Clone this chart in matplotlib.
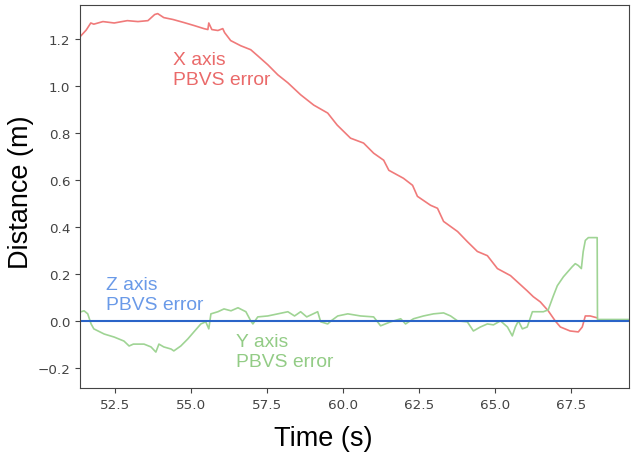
import matplotlib
matplotlib.use("Agg")
import matplotlib.pyplot as plt

# time (s) / distance (m)
x_time = [51.38, 51.55, 51.7, 51.8, 52.1, 52.47, 52.9, 53.25, 53.58, 53.8, 53.9,
          54.1, 54.4, 54.76, 55.1, 55.42, 55.55, 55.58, 55.68, 55.88, 56.04, 56.1,
          56.3, 56.63, 56.96, 57.19, 57.52, 57.85, 58.18, 58.6, 59.03, 59.49, 59.8,
          60.24, 60.67, 61.0, 61.33, 61.5, 61.98, 62.28, 62.44, 62.87, 63.1, 63.3,
          63.76, 64.08, 64.41, 64.74, 65.07, 65.5, 65.72, 66.05, 66.25, 66.48,
          66.74, 66.97, 67.14, 67.46, 67.73, 67.86, 67.96, 68.12, 68.35]
x_err = [1.216, 1.24, 1.27, 1.265, 1.276, 1.27, 1.28, 1.276, 1.28, 1.306, 1.31,
         1.293, 1.285, 1.272, 1.259, 1.246, 1.242, 1.27, 1.242, 1.238, 1.246, 1.229,
         1.195, 1.173, 1.156, 1.13, 1.092, 1.049, 1.015, 0.964, 0.92, 0.886, 0.835,
         0.779, 0.758, 0.715, 0.685, 0.642, 0.608, 0.578, 0.531, 0.493, 0.48, 0.424,
         0.381, 0.338, 0.296, 0.278, 0.223, 0.193, 0.167, 0.128, 0.103, 0.081,
         0.043, 0.0, -0.026, -0.043, -0.047, -0.026, 0.021, 0.021, 0.013]

y_time = [51.38, 51.48, 51.6, 51.71, 51.8, 52.14, 52.47, 52.79, 52.96, 53.1,
          53.45, 53.68, 53.84, 53.94, 54.1, 54.34, 54.43, 54.66, 54.89, 55.09,
          55.32, 55.48, 55.58, 55.65, 55.88, 56.08, 56.31, 56.54, 56.8, 56.96,
          57.03, 57.19, 57.52, 57.85, 58.18, 58.4, 58.6, 58.8, 59.16, 59.26, 59.49,
          59.6, 59.82, 60.15, 60.57, 61.0, 61.23, 61.56, 61.89, 62.05, 62.31,
          62.64, 62.97, 63.3, 63.53, 63.76, 64.08, 64.28, 64.51, 64.74, 64.94,
          65.17, 65.4, 65.56, 65.66, 65.76, 65.89, 66.05, 66.22, 66.58, 66.74,
          66.91, 67.04, 67.24, 67.53, 67.63, 67.73, 67.83, 67.89, 67.96, 68.06,
          68.35, 68.36, 69.4]
y_err = [0.039, 0.043, 0.03, -0.013, -0.034, -0.056, -0.069, -0.086, -0.107, -0.099,
         -0.099, -0.111, -0.133, -0.099, -0.111, -0.12, -0.128, -0.107, -0.077, -0.047,
         -0.013, -0.004, -0.034, 0.03, 0.039, 0.051, 0.043, 0.056, 0.039, 0.0,
         -0.013, 0.017, 0.021, 0.03, 0.039, 0.021, 0.039, 0.017, 0.039, -0.004, -0.013,
         0.0, 0.021, 0.03, 0.021, 0.017, -0.021, -0.004, 0.009, -0.013, 0.009,
         0.021, 0.03, 0.034, 0.021, 0.0, -0.004, -0.043, -0.026, -0.013, -0.017,
         0.0, -0.026, -0.064, -0.026, 0.0, -0.034, -0.026, 0.039, 0.039, 0.047,
         0.107, 0.15, 0.188, 0.231, 0.244, 0.236, 0.223, 0.295, 0.343, 0.355,
         0.355, 0.006, 0.006]

z_time = [51.35, 69.4]
z_err = [0.0, 0.0]

fig = plt.figure(figsize=(6.31, 4.56), dpi=100)
ax = fig.add_axes([0.127, 0.147, 0.87, 0.84])

ax.plot(x_time, x_err, color="#f07a7a", lw=1.2)
ax.plot(y_time, y_err, color="#9fd494", lw=1.2)
ax.plot(z_time, z_err, color="#2a64c8", lw=1.5)

txt = dict(family="Liberation Sans", fontsize=13.9, linespacing=1.2,
           ha="left", va="baseline")
ax.text(54.40, 1.011, "X axis\nPBVS error", color="#ea6a6a", **txt)
ax.text(52.20, 0.051, "Z axis\nPBVS error", color="#6a9ae8", **txt)
ax.text(56.47, -0.192, "Y axis\nPBVS error", color="#93cc86", **txt)

ax.set_xlim(51.35, 69.4)
ax.set_ylim(-0.286, 1.347)
ax.set_xticks([52.5, 55.0, 57.5, 60.0, 62.5, 65.0, 67.5])
ax.set_yticks([-0.2, 0.0, 0.2, 0.4, 0.6, 0.8, 1.0, 1.2])
ax.tick_params(labelsize=9.7, labelcolor="#444444", color="#444444")
for s in ax.spines.values():
    s.set_color("#444444")

ax.set_xlabel("Time (s)", family="Liberation Sans", fontsize=19.5)
ax.set_ylabel("Distance (m)", family="Liberation Sans", fontsize=19.5)
ax.xaxis.set_label_coords(0.443, -0.097)
ax.yaxis.set_label_coords(-0.084, 0.514)

fig.savefig("out.png", dpi=100)
